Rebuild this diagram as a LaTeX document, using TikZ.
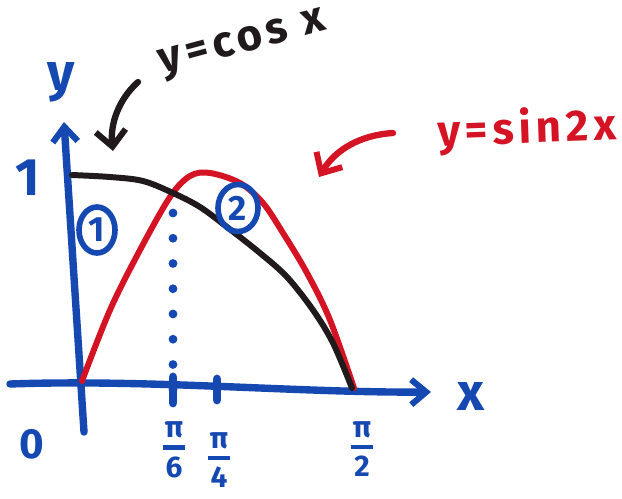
\documentclass[tikz,border=0pt]{standalone}
\usepackage{fontspec}
\setmainfont{Fira Sans}
\usetikzlibrary{arrows.meta,shapes.geometric}
\definecolor{penblue}{RGB}{22,72,178}
\definecolor{penred}{RGB}{212,20,36}
\definecolor{penblack}{RGB}{32,26,28}
\tikzset{
  axis/.style={penblue,line width=4.2pt,line cap=round,-{Straight Barb[length=3mm,width=5mm,line width=3.5pt]}},
  curve/.style={line width=3.4pt,line cap=round,line join=round},
  pointer/.style={line width=3.6pt,line cap=round,-{Straight Barb[length=3.2mm,width=6mm,line width=3.4pt]}},
  bluetext/.style={penblue,font=\bfseries\fontsize{30}{30}\selectfont,inner sep=0pt},
  fractext/.style={penblue,font=\bfseries\fontsize{17}{17}\selectfont,inner sep=0pt,align=center},
  circnum/.style={ellipse,draw=penblue,line width=3.2pt,text=penblue,inner sep=0pt,font=\bfseries\fontsize{20}{20}\selectfont},
  tick/.style={penblue,line width=5pt,line cap=round},
  funclabel/.style={inner sep=0pt,font=\bfseries\fontsize{25}{25}\selectfont\addfontfeature{LetterSpace=11}},
}
\newcommand{\fracstack}[2]{\shortstack{#1\\[1pt]\rule{13pt}{2.6pt}\\[1pt]#2}}
\begin{document}
\begin{tikzpicture}[x=0.02cm,y=-0.02cm]
\useasboundingbox[fill=white] (0,0) rectangle (622,498);

% axes
\coordinate (xs) at (10,384);
\coordinate (xe) at (431,392);
\coordinate (ys) at (84,432);
\coordinate (ye) at (64,122);
\draw[axis] (xs) .. controls (150,379) and (300,393) .. (xe);
\draw[axis] (ys) -- (ye);

% dotted line at pi/6
\coordinate (d1) at (173,213);
\coordinate (d2) at (173,390);
\draw[penblue,line width=5pt,line cap=round,dash pattern=on 0pt off 0.505cm] (d1) -- (d2);

% ticks
\coordinate (t1a) at (173,377); \coordinate (t1b) at (173,403);
\coordinate (t2a) at (217,379); \coordinate (t2b) at (217,400);
\draw[tick] (t1a) -- (t1b);
\draw[tick] (t2a) -- (t2b);

% y = sin 2x (red)
\draw[curve,penred] plot[smooth,tension=0.55] coordinates {(82,381) (110,310) (140,250) (170,197) (190,176) (210,173) (240,183) (263,203) (283,233) (307,273) (330,320) (354,388)};
% y = cos x (black)
\draw[curve,penblack] plot[smooth,tension=0.55] coordinates {(72,175) (110,177) (143,181) (173,193) (200,207) (227,227) (260,253) (287,277) (313,310) (333,343) (352,388)};

% circled numbers
\node[circnum,minimum width=0.72cm,minimum height=0.92cm] (c1) at (97,230) {1};
\node[circnum,minimum width=0.80cm,minimum height=0.94cm] (c2) at (238,208) {2};

% axis labels
\node[bluetext] (ylab) at (61,82) {y};
\node[bluetext] (xlab) at (471,396) {x};
\node[bluetext] (one) at (28,178) {1};
\node[bluetext,font=\bfseries\fontsize{24}{24}\selectfont] (zero) at (32,444) {0};

% fraction labels
\node[fractext] (f6) at (174,450) {\fracstack{π}{6}};
\node[fractext] (f4) at (219,460) {\fracstack{π}{4}};
\node[fractext] (f2) at (362,449) {\fracstack{π}{2}};

% function labels
\node[funclabel,penblack,rotate=15] (cosl) at (243,45) {y=cos x};
\node[funclabel,penred,rotate=2] (sinl) at (527,130) {y=sin2x};

% pointers
\coordinate (pa1) at (138,82);
\coordinate (pa2) at (113,151);
\draw[pointer,penblack] (pa1) .. controls (118,100) and (110,125) .. (pa2);
\coordinate (pb1) at (393,133);
\coordinate (pb2) at (319,177);
\draw[pointer,penred] (pb1) .. controls (360,135) and (335,150) .. (pb2);
\end{tikzpicture}
\end{document}
